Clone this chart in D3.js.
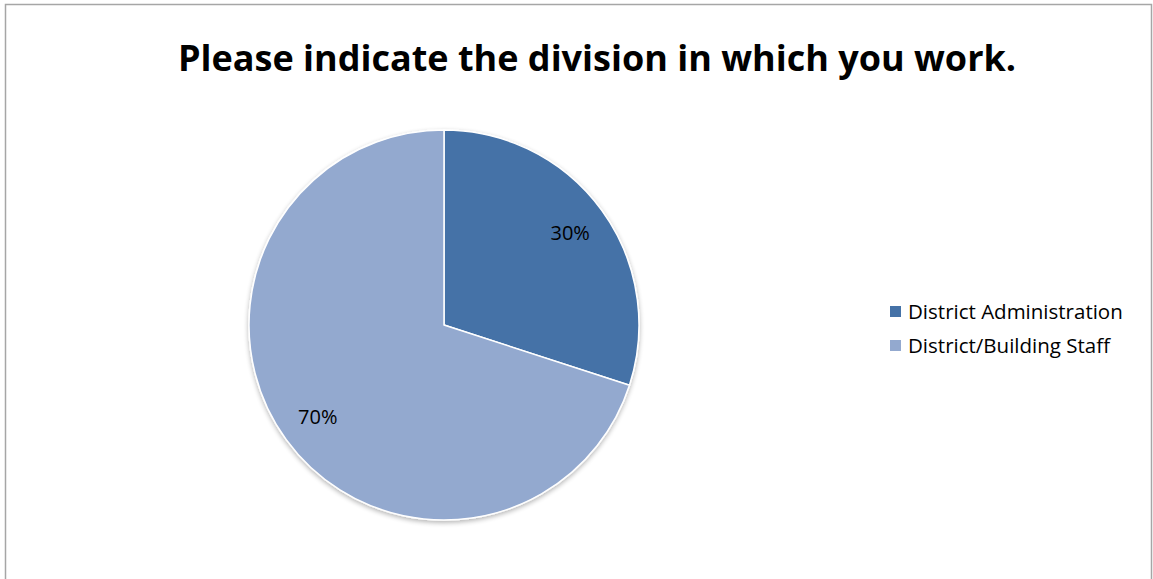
<!DOCTYPE html>
<html>
<head>
<meta charset="utf-8">
<script src="https://cdn.jsdelivr.net/npm/d3@7"></script>
<style>
  html, body { margin: 0; padding: 0; background: #fff; }
  svg { display: block; }
</style>
</head>
<body>
<svg id="chart" width="1153" height="579"></svg>
<script>
// Survey responses by division
const categories = ["District Administration", "District/Building Staff"];
const values = [30, 70];
const colors = ["#4572A7", "#93A9CF"];
const title = "Please indicate the division in which you work.";

const svg = d3.select("#chart");
const W = 1153, H = 579;

// chart frame
svg.append("rect")
  .attr("x", 5.5).attr("y", 4.5)
  .attr("width", W - 7).attr("height", H + 10)
  .attr("fill", "#fff")
  .attr("stroke", "#a6a6a6").attr("stroke-width", 1.5);

svg.append("text")
  .attr("x", 597).attr("y", 71)
  .attr("text-anchor", "middle")
  .attr("font-family", "'Open Sans', sans-serif")
  .attr("font-weight", "bold")
  .attr("font-size", 36)
  .attr("fill", "#000")
  .text(title);

const defs = svg.append("defs");
const f = defs.append("filter").attr("id", "shadow")
  .attr("x", "-10%").attr("y", "-10%").attr("width", "120%").attr("height", "120%");
f.append("feGaussianBlur").attr("in", "SourceAlpha").attr("stdDeviation", 2.5);
f.append("feOffset").attr("dx", 0).attr("dy", 2).attr("result", "b");
f.append("feComponentTransfer").append("feFuncA").attr("type", "linear").attr("slope", 0.3);
const m = f.append("feMerge");
m.append("feMergeNode");
m.append("feMergeNode").attr("in", "SourceGraphic");

const cx = 444, cy = 325, r = 195;
const pie = d3.pie().sort(null).value(d => d);
const arcs = pie(values);
const arc = d3.arc().innerRadius(0).outerRadius(r);
const labelArc = d3.arc().innerRadius(r * 0.8).outerRadius(r * 0.8);

const g = svg.append("g").attr("transform", `translate(${cx},${cy})`);
g.append("g").attr("filter", "url(#shadow)")
  .selectAll("path")
  .data(arcs)
  .join("path")
  .attr("d", arc)
  .attr("fill", (d, i) => colors[i])
  .attr("stroke", "#fff")
  .attr("stroke-width", 1.5)
  .attr("stroke-linejoin", "round");

const total = d3.sum(values);
g.selectAll("text.lbl")
  .data(arcs)
  .join("text")
  .attr("class", "lbl")
  .attr("transform", d => `translate(${labelArc.centroid(d)})`)
  .attr("text-anchor", "middle")
  .attr("dy", "0.35em")
  .attr("font-family", "'Open Sans', sans-serif")
  .attr("font-size", 20)
  .attr("fill", "#000")
  .text(d => Math.round(d.data / total * 100) + "%");

// legend
const lg = svg.append("g").attr("transform", "translate(890,312)");
const item = lg.selectAll("g")
  .data(categories)
  .join("g")
  .attr("transform", (d, i) => `translate(0,${i * 34})`);
item.append("rect")
  .attr("x", 0).attr("y", -6)
  .attr("width", 11).attr("height", 11)
  .attr("fill", (d, i) => colors[i]);
item.append("text")
  .attr("x", 18).attr("y", 0)
  .attr("dy", "0.35em")
  .attr("font-family", "'Open Sans', sans-serif")
  .attr("font-size", 20.5)
  .attr("fill", "#000")
  .text(d => d);
</script>
</body>
</html>
